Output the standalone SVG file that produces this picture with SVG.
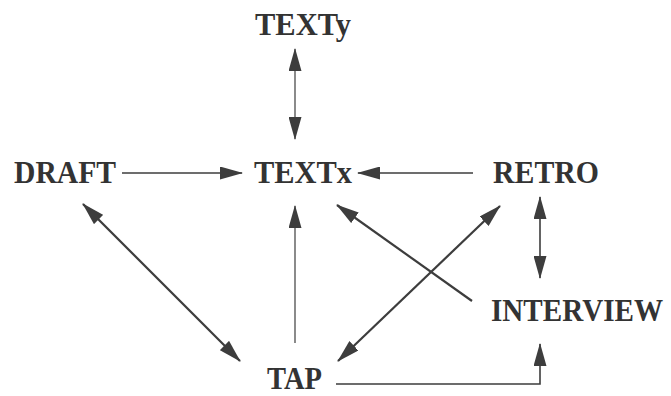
<svg xmlns="http://www.w3.org/2000/svg" width="671" height="396" viewBox="0 0 671 396">
<style>
  .lbl { font-family: "Liberation Serif", "Times New Roman", serif; font-weight: bold; font-size: 30px; fill: #333; }
  .c { fill: none; stroke: #3d3d3d; stroke-linejoin: miter; }
  .thin { stroke-width: 1.2; }
  .mid { stroke-width: 1.6; }
  .thick { stroke-width: 2.2; }
</style>
<defs>
  <marker id="ah" viewBox="0 0 23 13" refX="22" refY="6.5" markerWidth="23" markerHeight="13" markerUnits="userSpaceOnUse" orient="auto-start-reverse">
    <path d="M0,0 L23,6.5 L0,13 Z" fill="#3d3d3d"/>
  </marker>
</defs>
<rect width="671" height="396" fill="#fff"/>
<g id="connectors">
  <line class="c thin" x1="295" y1="49" x2="295" y2="139" marker-start="url(#ah)" marker-end="url(#ah)"/>
  <line class="c mid" x1="122" y1="173" x2="242" y2="173" marker-end="url(#ah)"/>
  <line class="c mid" x1="473" y1="173" x2="358" y2="173" marker-end="url(#ah)"/>
  <line class="c thick" x1="83" y1="204" x2="240" y2="361" marker-start="url(#ah)" marker-end="url(#ah)"/>
  <line class="c thin" x1="295" y1="343" x2="295" y2="206" marker-end="url(#ah)"/>
  <line class="c thick" x1="472" y1="301" x2="337" y2="205" marker-end="url(#ah)"/>
  <line class="c thick" x1="338" y1="361" x2="500" y2="206" marker-start="url(#ah)" marker-end="url(#ah)"/>
  <line class="c mid" x1="540" y1="197" x2="540" y2="278" marker-start="url(#ah)" marker-end="url(#ah)"/>
  <polyline class="c mid" points="336,384 540,384 540,344" marker-end="url(#ah)"/>
</g>
<g id="TEXTy" transform="translate(255,35) scale(1,1.07)"><text class="lbl" x="0" y="0" textLength="96" lengthAdjust="spacingAndGlyphs">TEXTy</text></g>
<g id="DRAFT" transform="translate(14,183) scale(1,1.07)"><text class="lbl" x="0" y="0" textLength="102" lengthAdjust="spacingAndGlyphs">DRAFT</text></g>
<g id="TEXTx" transform="translate(254,183) scale(1,1.07)"><text class="lbl" x="0" y="0" textLength="98" lengthAdjust="spacingAndGlyphs">TEXTx</text></g>
<g id="RETRO" transform="translate(493,183) scale(1,1.07)"><text class="lbl" x="0" y="0" textLength="106" lengthAdjust="spacingAndGlyphs">RETRO</text></g>
<g id="INTERVIEW" transform="translate(491,321) scale(1,1.07)"><text class="lbl" x="0" y="0" textLength="172" lengthAdjust="spacingAndGlyphs">INTERVIEW</text></g>
<g id="TAP" transform="translate(267,389) scale(1,1.07)"><text class="lbl" x="0" y="0" textLength="55" lengthAdjust="spacingAndGlyphs">TAP</text></g>
</svg>
